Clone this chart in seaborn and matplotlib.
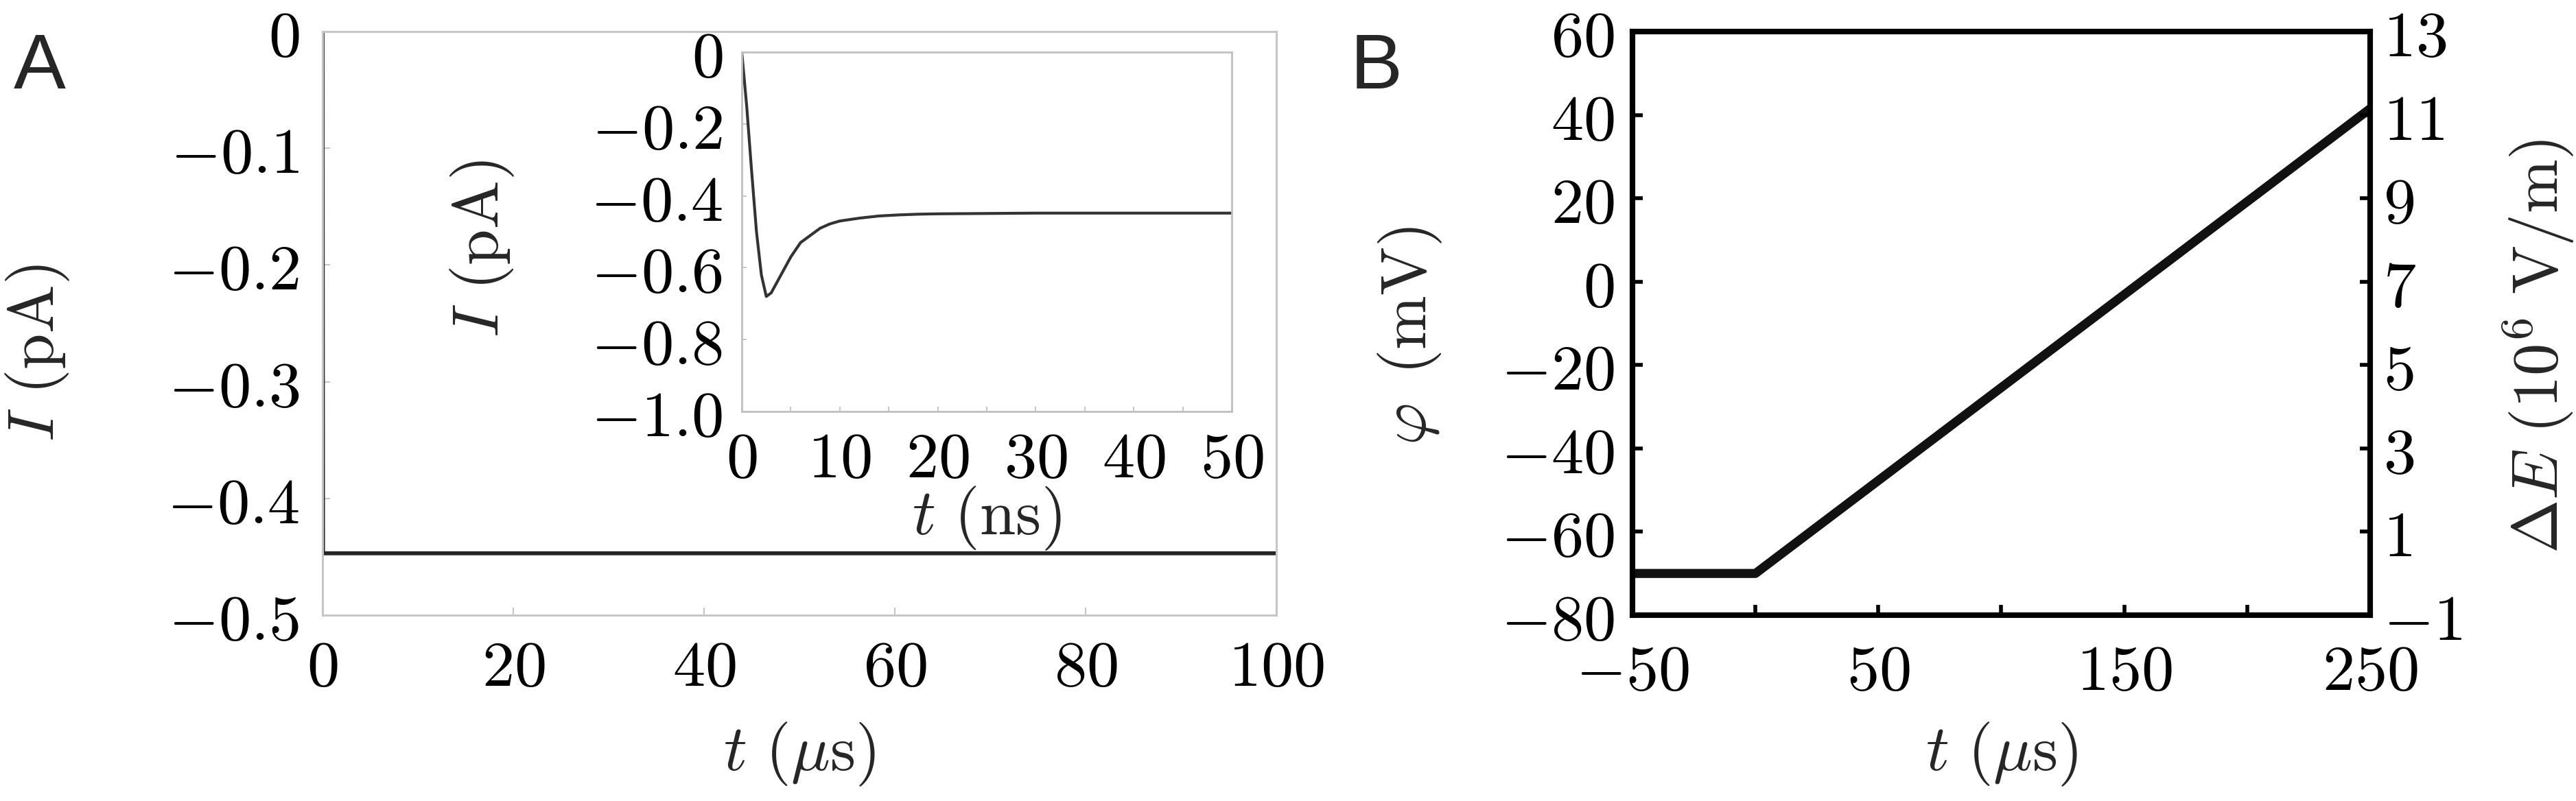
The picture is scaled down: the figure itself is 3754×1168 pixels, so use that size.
import matplotlib
matplotlib.use("Agg")
import matplotlib.pyplot as plt
import seaborn as sns
from matplotlib.ticker import FixedLocator, FixedFormatter

# ---------------- data ----------------
# Panel A main: current I (pA) vs time t (us)
main_t_us = [0, 0.05, 20, 40, 60, 80, 100]
main_I_pA = [0, -0.447, -0.447, -0.447, -0.447, -0.447, -0.447]

# Panel A inset: current I (pA) vs time t (ns)
inset_t_ns = [0, 0.5, 1.0, 1.5, 2.0, 2.5, 3.0, 4.0, 5.0, 6.0, 7.0, 8.0, 9.0,
              10, 12, 14, 16, 18, 20, 25, 30, 40, 50]
inset_I_pA = [0, -0.15, -0.33, -0.50, -0.62, -0.68, -0.67, -0.62, -0.57, -0.53,
              -0.51, -0.49, -0.478, -0.47, -0.462, -0.456, -0.453, -0.451, -0.45,
              -0.449, -0.448, -0.448, -0.448]

# Panel B: membrane potential phi (mV) vs time t (us)
phi_t_us = [-50, 0, 250]
phi_mV = [-70, -70, 41.5]

# tick values / labels
A_xticks = [0, 20, 40, 60, 80, 100]
A_xlabels = ["0", "20", "40", "60", "80", "100"]
A_yticks = [0, -0.1, -0.2, -0.3, -0.4, -0.5]
A_ylabels = ["0", "-0.1", "-0.2", "-0.3", "-0.4", "-0.5"]
In_xticks = [0, 10, 20, 30, 40, 50]
In_xlabels = ["0", "10", "20", "30", "40", "50"]
In_xminor = [5, 15, 25, 35, 45]
In_yticks = [0, -0.2, -0.4, -0.6, -0.8, -1.0]
In_ylabels = ["0", "-0.2", "-0.4", "-0.6", "-0.8", "-1.0"]
B_xticks = [-50, 50, 150, 250]
B_xlabels = ["-50", "50", "150", "250"]
B_xminor = [0, 100, 200]
B_yticks = [60, 40, 20, 0, -20, -40, -60, -80]
B_ylabels = ["60", "40", "20", "0", "-20", "-40", "-60", "-80"]
B_rticks = [13, 11, 9, 7, 5, 3, 1, -1]
B_rlabels = ["13", "11", "9", "7", "5", "3", "1", "-1"]

# ---------------- style ----------------
sns.set_theme(style="white")
plt.rcParams["mathtext.fontset"] = "cm"
plt.rcParams["font.family"] = ["DejaVu Sans"]

FS = 68
W, H = 3755, 1168


def m(labels):
    return [f"${s}$" for s in labels]


def frac_box(l, t, r, b):
    return [l / W, 1 - b / H, (r - l) / W, (b - t) / H]


fig = plt.figure(figsize=(W / 100, H / 100), dpi=100)

# ---------------- panel A ----------------
axA = fig.add_axes(frac_box(470, 46, 1860, 897))
sns.lineplot(x=main_t_us, y=main_I_pA, ax=axA, color="#262626", linewidth=4.2,
             estimator=None, sort=False)
axA.set_xlim(0, 100)
axA.set_ylim(-0.5, 0)
axA.xaxis.set_major_locator(FixedLocator(A_xticks))
axA.xaxis.set_major_formatter(FixedFormatter(m(A_xlabels)))
axA.yaxis.set_major_locator(FixedLocator(A_yticks))
axA.yaxis.set_major_formatter(FixedFormatter(m(A_ylabels)))
for sp in axA.spines.values():
    sp.set_color("#c6c6c6")
    sp.set_linewidth(2.2)
axA.tick_params(axis="both", which="both", direction="in", length=8, width=1.5,
                color="#c6c6c6", labelcolor="black", labelsize=FS,
                left=True, bottom=True, top=False, right=False)
axA.tick_params(axis="y", pad=24)
axA.tick_params(axis="x", pad=22)
axA.set_xlabel(r"$t\ (\mu\mathrm{s})$", fontsize=FS)
axA.set_ylabel(r"$I\ (\mathrm{pA})$", fontsize=FS)
axA.xaxis.set_label_coords(0.5, -0.2386)
axA.xaxis.label.set_va("center")
axA.yaxis.set_label_coords((55 - 470) / 1390, (897 - 515) / 851)
axA.yaxis.label.set_va("center")

# inset
axI = fig.add_axes(frac_box(1081, 76, 1795, 600))
axI.set_facecolor("white")
sns.lineplot(x=inset_t_ns, y=inset_I_pA, ax=axI, color="#333333", linewidth=3.0,
             estimator=None, sort=False)
axI.set_xlim(0, 50)
axI.set_ylim(-1.0, 0)
axI.xaxis.set_major_locator(FixedLocator(In_xticks))
axI.xaxis.set_major_formatter(FixedFormatter(m(In_xlabels)))
axI.xaxis.set_minor_locator(FixedLocator(In_xminor))
axI.yaxis.set_major_locator(FixedLocator(In_yticks))
axI.yaxis.set_major_formatter(FixedFormatter(m(In_ylabels)))
for sp in axI.spines.values():
    sp.set_color("#c0c0c0")
    sp.set_linewidth(2.0)
axI.tick_params(axis="both", which="both", direction="in", length=5, width=1.3,
                color="#c0c0c0", labelcolor="black", labelsize=FS,
                left=True, bottom=True, top=False, right=False)
axI.tick_params(axis="y", pad=20)
axI.tick_params(axis="x", pad=17)
axI.set_xlabel(r"$t\ (\mathrm{ns})$", fontsize=FS)
axI.set_ylabel(r"$I\ (\mathrm{pA})$", fontsize=FS)
axI.xaxis.set_label_coords(0.5, (600 - 756) / 524)
axI.xaxis.label.set_va("center")
axI.yaxis.set_label_coords((703 - 1081) / 714, (600 - 363) / 524)
axI.yaxis.label.set_va("center")

# ---------------- panel B ----------------
axB = fig.add_axes(frac_box(2379, 46, 3454, 897))
sns.lineplot(x=phi_t_us, y=phi_mV, ax=axB, color="#111111", linewidth=9.5,
             estimator=None, sort=False)
axB.set_xlim(-50, 250)
axB.set_ylim(-80, 60)
axB.xaxis.set_major_locator(FixedLocator(B_xticks))
axB.xaxis.set_major_formatter(FixedFormatter(m(B_xlabels)))
axB.xaxis.set_minor_locator(FixedLocator(B_xminor))
axB.yaxis.set_major_locator(FixedLocator(B_yticks))
axB.yaxis.set_major_formatter(FixedFormatter(m(B_ylabels)))
for sp in axB.spines.values():
    sp.set_color("black")
    sp.set_linewidth(5.8)
axB.tick_params(axis="both", which="both", direction="in", length=11, width=4,
                color="black", labelcolor="black", labelsize=FS,
                left=True, bottom=True, top=False, right=False)
axB.tick_params(axis="y", pad=19)
axB.tick_params(axis="x", pad=27)
axB.set_xlabel(r"$t\ (\mu\mathrm{s})$", fontsize=FS)
axB.set_ylabel(r"$\varphi\ \,(\mathrm{mV})$", fontsize=FS)
axB.xaxis.set_label_coords(0.5, -0.2386)
axB.xaxis.label.set_va("center")
axB.yaxis.set_label_coords((2055 - 2379) / 1075, (897 - 490) / 851)
axB.yaxis.label.set_va("center")

axR = axB.twinx()
axR.set_ylim(-1, 13)
axR.yaxis.set_major_locator(FixedLocator(B_rticks))
axR.yaxis.set_major_formatter(FixedFormatter(m(B_rlabels)))
for sp in axR.spines.values():
    sp.set_color("black")
    sp.set_linewidth(5.8)
axR.tick_params(axis="y", which="both", direction="in", length=11, width=4,
                color="black", labelcolor="black", labelsize=FS, pad=14,
                left=False, right=True)
axR.set_ylabel(r"$\Delta E\ (10^6\ \mathrm{V/m})$", fontsize=FS)
axR.yaxis.set_label_coords((3700 - 2379) / 1075, (897 - 505) / 851)
axR.yaxis.label.set_va("center")

# panel letters
fig.text(20 / W, 1 - 129 / H, "A", fontsize=82, family=["Liberation Sans", "DejaVu Sans"],
         ha="left", va="baseline")
fig.text(1968 / W, 1 - 129 / H, "B", fontsize=82, family=["Liberation Sans", "DejaVu Sans"],
         ha="left", va="baseline")

fig.savefig("out.png", dpi=100, facecolor="white")
